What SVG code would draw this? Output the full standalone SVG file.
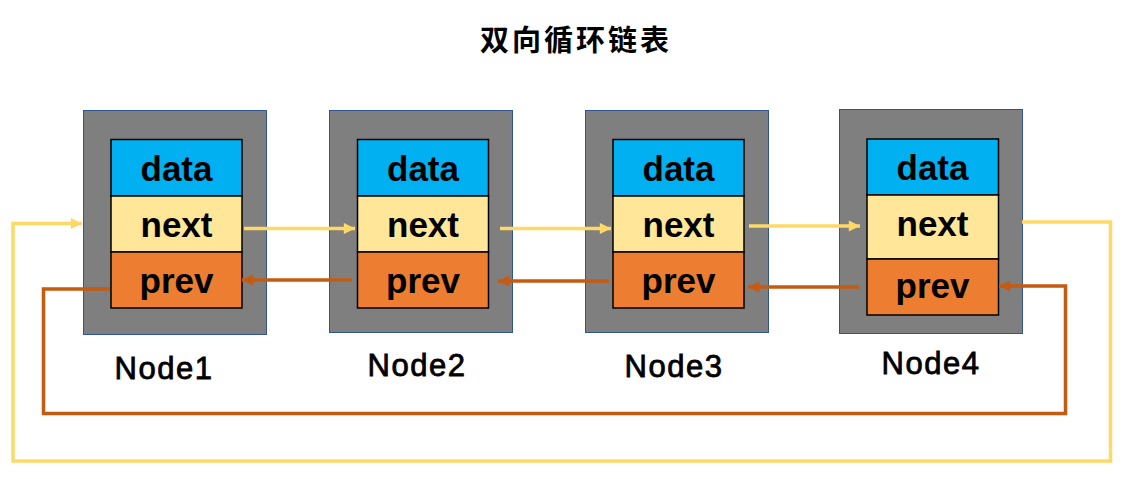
<svg xmlns="http://www.w3.org/2000/svg" width="1126" height="479" viewBox="0 0 1126 479">
<defs>
<style>
.outer{fill:#7F7F7F;stroke:#2F5597;stroke-width:1}
.data{fill:#00B0F0;stroke:#000;stroke-width:1.5}
.next{fill:#FFE699;stroke:#000;stroke-width:1.5}
.prev{fill:#ED7D31;stroke:#000;stroke-width:1.5}
.f{font-family:"Liberation Sans",Arial,sans-serif;font-weight:bold;font-size:35px;text-anchor:middle;fill:#000}
.lbl{font-family:"Liberation Sans",Arial,sans-serif;font-size:31px;letter-spacing:1.5px;text-anchor:middle;fill:#000;stroke:#000;stroke-width:0.8}
.title{font-family:"Noto Sans CJK SC",sans-serif;font-weight:bold;font-size:29px;letter-spacing:3px;text-anchor:middle;fill:#000}
.y{fill:none;stroke:#FFD966;stroke-width:3.5}
.b{fill:none;stroke:#C55A11;stroke-width:3.5}
</style>
<marker id="ay" viewBox="0 0 10 10" refX="10" refY="5" markerWidth="3.4" markerHeight="3.2" orient="auto" markerUnits="strokeWidth"><path d="M0,0 L10,5 L0,10 z" fill="#FFD966"/></marker>
<marker id="ab" viewBox="0 0 10 10" refX="10" refY="5" markerWidth="3.4" markerHeight="3.2" orient="auto" markerUnits="strokeWidth"><path d="M0,0 L10,5 L0,10 z" fill="#C55A11"/></marker>
</defs>
<rect width="1126" height="479" fill="#fff"/>
<text class="title" x="576" y="51">双向循环链表</text>

<g id="node1">
<rect class="outer" x="83.5" y="110.5" width="183" height="224"/>
<rect class="data" x="111" y="139.5" width="131" height="56.5"/>
<rect class="next" x="111" y="196" width="131" height="56"/>
<rect class="prev" x="111" y="252" width="131" height="56"/>
<text class="f" x="176.5" y="181">data</text>
<text class="f" x="176.5" y="237">next</text>
<text class="f" x="176.5" y="292.5">prev</text>
<text class="lbl" x="164" y="379">Node1</text>
</g>
<g id="node2">
<rect class="outer" x="329.5" y="110.5" width="183" height="222"/>
<rect class="data" x="357.5" y="139.5" width="131" height="56.5"/>
<rect class="next" x="357.5" y="196" width="131" height="56"/>
<rect class="prev" x="357.5" y="252" width="131" height="56"/>
<text class="f" x="423" y="181">data</text>
<text class="f" x="423" y="237">next</text>
<text class="f" x="423" y="293">prev</text>
<text class="lbl" x="417" y="376">Node2</text>
</g>
<g id="node3">
<rect class="outer" x="585.5" y="110.5" width="183" height="222"/>
<rect class="data" x="613" y="139.5" width="131" height="56.5"/>
<rect class="next" x="613" y="196" width="131" height="56"/>
<rect class="prev" x="613" y="252" width="131" height="56"/>
<text class="f" x="678.5" y="181">data</text>
<text class="f" x="678.5" y="237">next</text>
<text class="f" x="678.5" y="293">prev</text>
<text class="lbl" x="674" y="377">Node3</text>
</g>
<g id="node4">
<rect class="outer" x="839.5" y="109.5" width="183" height="224"/>
<rect class="data" x="867" y="139" width="131.5" height="56"/>
<rect class="next" x="867" y="195" width="131.5" height="64"/>
<rect class="prev" x="867" y="259" width="131.5" height="56"/>
<text class="f" x="932.5" y="180">data</text>
<text class="f" x="932.5" y="236">next</text>
<text class="f" x="932.5" y="298">prev</text>
<text class="lbl" x="931" y="374">Node4</text>
</g>

<g id="connectors">
<line class="y" x1="244" y1="228.5" x2="355" y2="228.5" marker-end="url(#ay)"/>
<line class="y" x1="500" y1="228.5" x2="611" y2="228.5" marker-end="url(#ay)"/>
<line class="y" x1="749" y1="226" x2="860" y2="226" marker-end="url(#ay)"/>
<polyline class="y" points="1022,222 1110.5,222 1110.5,461 13,461 13,223.5 82,223.5" marker-end="url(#ay)"/>
<line class="b" x1="352" y1="280" x2="242" y2="280" marker-end="url(#ab)"/>
<line class="b" x1="609" y1="281" x2="498" y2="281" marker-end="url(#ab)"/>
<line class="b" x1="859" y1="287" x2="748" y2="287" marker-end="url(#ab)"/>
<polyline class="b" points="110,289 43.5,289 43.5,413.5 1065.5,413.5 1065.5,286 999,286" marker-end="url(#ab)"/>
</g>
</svg>
